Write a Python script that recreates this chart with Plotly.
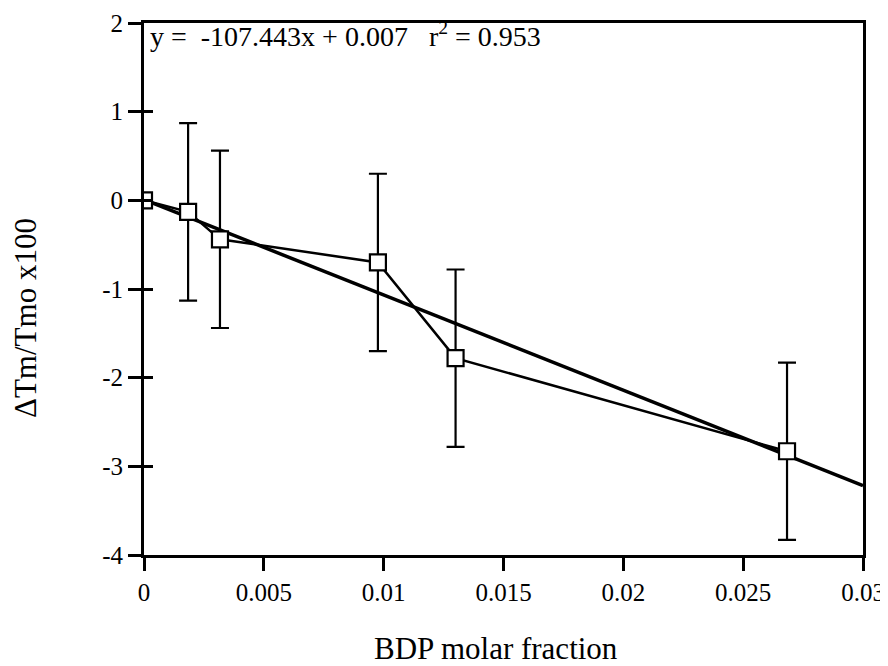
import plotly.graph_objects as go

# data
x_vals = [0.0, 0.00184, 0.00317, 0.00976, 0.0130, 0.02683]
y_vals = [0.0, -0.13, -0.44, -0.70, -1.78, -2.83]
y_err = [0.0, 1.0, 1.0, 1.0, 1.0, 1.0]

fit_slope = -107.443
fit_intercept = 0.007
fit_x = [0.0, 0.03]
fit_y = [fit_slope * v + fit_intercept for v in fit_x]

x_ticks = [0, 0.005, 0.01, 0.015, 0.02, 0.025, 0.03]
x_tick_text = ["0", "0.005", "0.01", "0.015", "0.02", "0.025", "0.03"]
y_ticks = [-4, -3, -2, -1, 0, 1, 2]
y_tick_text = ["-4", "-3", "-2", "-1", "0", "1", "2"]

FONT = "Liberation Serif, Times New Roman, serif"

fig = go.Figure()

fig.add_trace(go.Scatter(
    x=fit_x, y=fit_y, mode="lines",
    line=dict(color="black", width=3.5),
    showlegend=False, hoverinfo="skip",
))

fig.add_trace(go.Scatter(
    x=x_vals, y=y_vals, mode="lines+markers",
    line=dict(color="black", width=2.5),
    marker=dict(symbol="square", size=16, color="white",
                line=dict(color="black", width=2.2)),
    error_y=dict(type="data", array=y_err, visible=True,
                 color="black", thickness=2.2, width=9),
    showlegend=False,
))

# invisible trace on the overlay axis so inside ticks are drawn
fig.add_trace(go.Scatter(
    x=[0], y=[0], yaxis="y2", mode="markers",
    marker=dict(opacity=0), showlegend=False, hoverinfo="skip",
))

fig.update_layout(
    width=888, height=666,
    margin=dict(l=136, r=33, t=15, b=119),
    paper_bgcolor="white", plot_bgcolor="white",
    font=dict(family=FONT, size=25, color="black"),
    xaxis=dict(
        range=[0, 0.03], tickvals=x_ticks, ticktext=x_tick_text,
        ticks="outside", ticklen=13, tickwidth=2.5, tickcolor="black",
        showline=True, linewidth=3, linecolor="black", mirror=True,
        showgrid=False, zeroline=False, automargin=False,
        tickfont=dict(family=FONT, size=25),
    ),
    yaxis=dict(
        range=[-4, 2], tickvals=y_ticks, ticktext=y_tick_text,
        ticks="outside", ticklen=13, tickwidth=2.5, tickcolor="black",
        showline=True, linewidth=3, linecolor="black", mirror=True,
        showgrid=False, zeroline=False, automargin=False,
        tickfont=dict(family=FONT, size=25),
    ),
    yaxis2=dict(
        range=[-4, 2], tickvals=y_ticks, overlaying="y", side="left",
        ticks="inside", ticklen=9, tickwidth=2.5, tickcolor="black",
        showticklabels=False, showline=False, showgrid=False, zeroline=False,
        automargin=False,
    ),
    annotations=[
        dict(
            text="y =  -107.443x + 0.007   r<sup>2</sup> = 0.953",
            xref="paper", yref="paper", x=0.006, y=0.978,
            xanchor="left", yanchor="middle", showarrow=False,
            font=dict(family=FONT, size=28, color="black"),
        ),
        dict(
            text="BDP molar fraction",
            xref="paper", yref="paper", x=(496 - 144) / 719, y=(555 - 648) / 532,
            xanchor="center", yanchor="middle", showarrow=False,
            font=dict(family=FONT, size=31, color="black"),
        ),
        dict(
            text="ΔTm/Tmo x100", textangle=-90,
            xref="paper", yref="paper", x=(25 - 144) / 719, y=(555 - 318) / 532,
            xanchor="center", yanchor="middle", showarrow=False,
            font=dict(family=FONT, size=31, color="black"),
        ),
    ],
)

fig.write_html("out.html")
